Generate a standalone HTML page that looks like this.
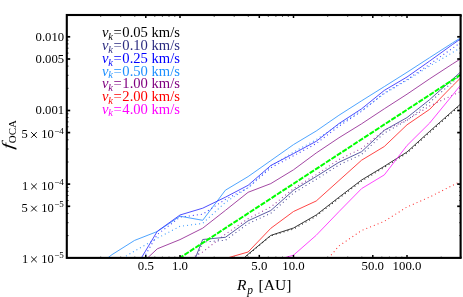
<!DOCTYPE html>
<html><head><meta charset="utf-8"><style>
html,body{margin:0;padding:0;background:#fff;}
body{width:463px;height:297px;overflow:hidden;}
svg{display:block;font-family:"Liberation Serif",serif;will-change:transform;opacity:0.999;}
</style></head><body>
<svg width="463" height="297" viewBox="0 0 463 297">
<rect width="463" height="297" fill="#fff"/>
<defs><clipPath id="c"><rect x="66.8" y="15.0" width="393.8" height="242.9"/></clipPath></defs>
<g clip-path="url(#c)" stroke-linejoin="round">
<path d="M107.4 258.2 L111.9 254.7 L134.6 240.4 L157.3 231.5 L180.0 216.2 L202.7 220.3 L225.4 190.2 L248.1 176.6 L270.8 160.6 L293.5 144.6 L316.2 131.0 L338.9 115.3 L361.6 100.8 L384.3 86.6 L407.0 72.3 L429.7 57.6 L452.4 43.0 L460.7 37.8" fill="none" stroke="#3a9aff" stroke-width="0.9" />
<path d="M122.5 258.2 L134.6 251.0 L157.3 238.2 L180.0 226.3 L202.7 223.4 L225.4 202.3 L248.1 187.6 L270.8 166.0 L293.5 152.2 L316.2 139.6 L338.9 124.6 L361.6 110.6 L384.3 93.6 L407.0 80.3 L429.7 66.0 L452.4 52.6 L460.7 47.6" fill="none" stroke="#3a9aff" stroke-width="1.05" stroke-dasharray="1 3.05" />
<path d="M141.2 258.2 L157.3 231.3 L180.0 215.0 L202.7 208.2 L225.4 197.2 L248.1 185.3 L270.8 165.5 L293.5 153.6 L316.2 141.3 L338.9 123.6 L361.6 108.8 L384.3 90.4 L407.0 77.0 L429.7 61.0 L452.4 44.6 L460.7 38.8" fill="none" stroke="#3a3aff" stroke-width="0.9" />
<path d="M143.6 258.2 L157.3 234.5 L180.0 217.2 L202.7 214.2 L225.4 199.4 L248.1 187.8 L270.8 167.8 L293.5 155.8 L316.2 143.6 L338.9 126.2 L361.6 111.3 L384.3 93.0 L407.0 79.6 L429.7 64.2 L452.4 48.3 L460.7 42.6" fill="none" stroke="#3a3aff" stroke-width="1.05" stroke-dasharray="1 3.05" />
<path d="M147.3 258.2 L157.3 248.8 L180.0 239.6 L202.7 228.2 L225.4 210.4 L248.1 192.3 L270.8 183.6 L293.5 169.8 L316.2 153.0 L338.9 137.8 L361.6 123.8 L384.3 108.8 L407.0 94.2 L429.7 78.8 L452.4 64.0 L460.7 58.8" fill="none" stroke="#993399" stroke-width="0.9" />
<path d="M191.3 258.2 L202.7 252.0 L225.4 234.2 L248.1 218.7 L270.8 207.0 L293.5 188.6 L316.2 174.6 L338.9 159.6 L361.6 148.5 L384.3 130.3 L407.0 120.0 L429.7 106.0 L452.4 95.3 L460.7 91.4" fill="none" stroke="#993399" stroke-width="1.05" stroke-dasharray="1 3.05" />
<path d="M195.3 258.2 L202.7 239.5 L225.4 237.3 L248.1 220.8 L270.8 210.5 L293.5 190.3 L316.2 176.5 L338.9 162.3 L361.6 151.7 L384.3 130.3 L407.0 117.6 L429.7 99.6 L452.4 79.3 L460.7 71.9" fill="none" stroke="#4a4a9a" stroke-width="0.9" />
<path d="M196.6 258.2 L202.7 242.0 L225.4 240.3 L248.1 223.6 L270.8 213.3 L293.5 193.1 L316.2 179.3 L338.9 165.0 L361.6 154.4 L384.3 133.0 L407.0 120.3 L429.7 102.4 L452.4 82.2 L460.7 74.8" fill="none" stroke="#4a4a9a" stroke-width="1.05" stroke-dasharray="1 3.05" />
<path d="M226.5 258.2 L248.1 252.0 L270.8 228.3 L293.5 211.5 L316.2 201.0 L338.9 180.6 L361.6 160.2 L384.3 146.5 L407.0 124.8 L429.7 109.3 L452.4 86.0 L460.7 77.8" fill="none" stroke="#ff3030" stroke-width="0.9" />
<path d="M328.5 258.2 L338.9 246.0 L361.6 230.5 L384.3 221.3 L407.0 207.0 L429.7 197.0 L452.4 185.5 L460.7 181.2" fill="none" stroke="#ff3030" stroke-width="1.05" stroke-dasharray="1 3.05" />
<path d="M243.8 258.2 L248.1 254.3 L270.8 235.4 L293.5 228.0 L316.2 215.0 L338.9 197.3 L361.6 180.0 L384.3 166.3 L407.0 152.0 L429.7 131.3 L452.4 111.2 L460.7 104.0" fill="none" stroke="#222222" stroke-width="0.9" />
<path d="M243.8 258.6 L248.1 254.7 L270.8 235.8 L293.5 229.1 L316.2 216.1 L338.9 198.4 L361.6 181.1 L384.3 167.4 L407.0 153.1 L429.7 132.4 L452.4 112.3 L460.7 105.1" fill="none" stroke="#222222" stroke-width="1.05" stroke-dasharray="1 3.05" />
<path d="M283.0 258.2 L293.5 255.2 L316.2 235.3 L338.9 211.7 L361.6 188.6 L384.3 174.9 L407.0 145.5 L429.7 123.0 L452.4 95.3 L460.7 85.0" fill="none" stroke="#ff30ff" stroke-width="0.9" />
<path d="M179.0 258.4 L460.7 74.7" fill="none" stroke="#00ff00" stroke-width="2.0" stroke-dasharray="5.2 1.3" />
</g>
<g stroke="#000" stroke-width="1" fill="none">
<path d="M100.7 257.9 v-1.25" stroke-width="0.9"/><path d="M100.7 15.0 v1.70" stroke-width="0.9"/>
<path d="M120.7 257.9 v-1.25" stroke-width="0.9"/><path d="M120.7 15.0 v1.70" stroke-width="0.9"/>
<path d="M134.8 257.9 v-1.25" stroke-width="0.9"/><path d="M134.8 15.0 v1.70" stroke-width="0.9"/>
<path d="M145.8 257.9 v-3.00" stroke-width="1.5"/><path d="M145.8 15.0 v3.00" stroke-width="1.5"/>
<path d="M154.8 257.9 v-1.25" stroke-width="0.9"/><path d="M154.8 15.0 v1.70" stroke-width="0.9"/>
<path d="M162.4 257.9 v-1.25" stroke-width="0.9"/><path d="M162.4 15.0 v1.70" stroke-width="0.9"/>
<path d="M169.0 257.9 v-1.25" stroke-width="0.9"/><path d="M169.0 15.0 v1.70" stroke-width="0.9"/>
<path d="M174.8 257.9 v-1.25" stroke-width="0.9"/><path d="M174.8 15.0 v1.70" stroke-width="0.9"/>
<path d="M180.0 257.9 v-3.00" stroke-width="1.5"/><path d="M180.0 15.0 v3.00" stroke-width="1.5"/>
<path d="M214.2 257.9 v-1.25" stroke-width="0.9"/><path d="M214.2 15.0 v1.70" stroke-width="0.9"/>
<path d="M234.2 257.9 v-1.25" stroke-width="0.9"/><path d="M234.2 15.0 v1.70" stroke-width="0.9"/>
<path d="M248.3 257.9 v-1.25" stroke-width="0.9"/><path d="M248.3 15.0 v1.70" stroke-width="0.9"/>
<path d="M259.3 257.9 v-3.00" stroke-width="1.5"/><path d="M259.3 15.0 v3.00" stroke-width="1.5"/>
<path d="M268.3 257.9 v-1.25" stroke-width="0.9"/><path d="M268.3 15.0 v1.70" stroke-width="0.9"/>
<path d="M275.9 257.9 v-1.25" stroke-width="0.9"/><path d="M275.9 15.0 v1.70" stroke-width="0.9"/>
<path d="M282.5 257.9 v-1.25" stroke-width="0.9"/><path d="M282.5 15.0 v1.70" stroke-width="0.9"/>
<path d="M288.3 257.9 v-1.25" stroke-width="0.9"/><path d="M288.3 15.0 v1.70" stroke-width="0.9"/>
<path d="M293.5 257.9 v-3.00" stroke-width="1.5"/><path d="M293.5 15.0 v3.00" stroke-width="1.5"/>
<path d="M327.7 257.9 v-1.25" stroke-width="0.9"/><path d="M327.7 15.0 v1.70" stroke-width="0.9"/>
<path d="M347.7 257.9 v-1.25" stroke-width="0.9"/><path d="M347.7 15.0 v1.70" stroke-width="0.9"/>
<path d="M361.8 257.9 v-1.25" stroke-width="0.9"/><path d="M361.8 15.0 v1.70" stroke-width="0.9"/>
<path d="M372.8 257.9 v-3.00" stroke-width="1.5"/><path d="M372.8 15.0 v3.00" stroke-width="1.5"/>
<path d="M381.8 257.9 v-1.25" stroke-width="0.9"/><path d="M381.8 15.0 v1.70" stroke-width="0.9"/>
<path d="M389.4 257.9 v-1.25" stroke-width="0.9"/><path d="M389.4 15.0 v1.70" stroke-width="0.9"/>
<path d="M396.0 257.9 v-1.25" stroke-width="0.9"/><path d="M396.0 15.0 v1.70" stroke-width="0.9"/>
<path d="M401.8 257.9 v-1.25" stroke-width="0.9"/><path d="M401.8 15.0 v1.70" stroke-width="0.9"/>
<path d="M407.0 257.9 v-3.00" stroke-width="1.5"/><path d="M407.0 15.0 v3.00" stroke-width="1.5"/>
<path d="M441.2 257.9 v-1.25" stroke-width="0.9"/><path d="M441.2 15.0 v1.70" stroke-width="0.9"/>
<path d="M461.2 257.9 v-1.25" stroke-width="0.9"/><path d="M461.2 15.0 v1.70" stroke-width="0.9"/>
<path d="M66.8 235.6 h1.70" stroke-width="0.9"/><path d="M460.6 235.6 h-1.25" stroke-width="0.9"/>
<path d="M66.8 222.7 h1.70" stroke-width="0.9"/><path d="M460.6 222.7 h-1.25" stroke-width="0.9"/>
<path d="M66.8 213.4 h1.70" stroke-width="0.9"/><path d="M460.6 213.4 h-1.25" stroke-width="0.9"/>
<path d="M66.8 206.3 h3.40" stroke-width="1.7"/><path d="M460.6 206.3 h-3.40" stroke-width="1.7"/>
<path d="M66.8 200.5 h1.70" stroke-width="0.9"/><path d="M460.6 200.5 h-1.25" stroke-width="0.9"/>
<path d="M66.8 195.5 h1.70" stroke-width="0.9"/><path d="M460.6 195.5 h-1.25" stroke-width="0.9"/>
<path d="M66.8 191.3 h1.70" stroke-width="0.9"/><path d="M460.6 191.3 h-1.25" stroke-width="0.9"/>
<path d="M66.8 187.5 h1.70" stroke-width="0.9"/><path d="M460.6 187.5 h-1.25" stroke-width="0.9"/>
<path d="M66.8 184.1 h3.40" stroke-width="1.7"/><path d="M460.6 184.1 h-3.40" stroke-width="1.7"/>
<path d="M66.8 162.0 h1.70" stroke-width="0.9"/><path d="M460.6 162.0 h-1.25" stroke-width="0.9"/>
<path d="M66.8 149.0 h1.70" stroke-width="0.9"/><path d="M460.6 149.0 h-1.25" stroke-width="0.9"/>
<path d="M66.8 139.8 h1.70" stroke-width="0.9"/><path d="M460.6 139.8 h-1.25" stroke-width="0.9"/>
<path d="M66.8 132.6 h3.40" stroke-width="1.7"/><path d="M460.6 132.6 h-3.40" stroke-width="1.7"/>
<path d="M66.8 126.8 h1.70" stroke-width="0.9"/><path d="M460.6 126.8 h-1.25" stroke-width="0.9"/>
<path d="M66.8 121.9 h1.70" stroke-width="0.9"/><path d="M460.6 121.9 h-1.25" stroke-width="0.9"/>
<path d="M66.8 117.6 h1.70" stroke-width="0.9"/><path d="M460.6 117.6 h-1.25" stroke-width="0.9"/>
<path d="M66.8 113.8 h1.70" stroke-width="0.9"/><path d="M460.6 113.8 h-1.25" stroke-width="0.9"/>
<path d="M66.8 110.5 h3.40" stroke-width="1.7"/><path d="M460.6 110.5 h-3.40" stroke-width="1.7"/>
<path d="M66.8 88.3 h1.70" stroke-width="0.9"/><path d="M460.6 88.3 h-1.25" stroke-width="0.9"/>
<path d="M66.8 75.3 h1.70" stroke-width="0.9"/><path d="M460.6 75.3 h-1.25" stroke-width="0.9"/>
<path d="M66.8 66.1 h1.70" stroke-width="0.9"/><path d="M460.6 66.1 h-1.25" stroke-width="0.9"/>
<path d="M66.8 59.0 h3.40" stroke-width="1.7"/><path d="M460.6 59.0 h-3.40" stroke-width="1.7"/>
<path d="M66.8 53.1 h1.70" stroke-width="0.9"/><path d="M460.6 53.1 h-1.25" stroke-width="0.9"/>
<path d="M66.8 48.2 h1.70" stroke-width="0.9"/><path d="M460.6 48.2 h-1.25" stroke-width="0.9"/>
<path d="M66.8 43.9 h1.70" stroke-width="0.9"/><path d="M460.6 43.9 h-1.25" stroke-width="0.9"/>
<path d="M66.8 40.2 h1.70" stroke-width="0.9"/><path d="M460.6 40.2 h-1.25" stroke-width="0.9"/>
<path d="M66.8 36.8 h3.40" stroke-width="1.7"/><path d="M460.6 36.8 h-3.40" stroke-width="1.7"/>
</g>
<rect x="66.8" y="15.0" width="393.8" height="242.9" fill="none" stroke="#000" stroke-width="2.1"/>
<g fill="#000">
<g transform="translate(102.1,37.4) scale(1.045,1)" fill="#000000" font-size="14"><text x="0" y="0"><tspan font-style="italic">v</tspan><tspan font-style="italic" font-size="10" dy="2.8" dx="-0.3">k</tspan><tspan dy="-2.8" dx="0.5">=</tspan><tspan dx="0.6">0.05 km/s</tspan></text></g>
<g transform="translate(102.1,50.1) scale(1.045,1)" fill="#2b2b80" font-size="14"><text x="0" y="0"><tspan font-style="italic">v</tspan><tspan font-style="italic" font-size="10" dy="2.8" dx="-0.3">k</tspan><tspan dy="-2.8" dx="0.5">=</tspan><tspan dx="0.6">0.10 km/s</tspan></text></g>
<g transform="translate(102.1,62.8) scale(1.045,1)" fill="#0000ff" font-size="14"><text x="0" y="0"><tspan font-style="italic">v</tspan><tspan font-style="italic" font-size="10" dy="2.8" dx="-0.3">k</tspan><tspan dy="-2.8" dx="0.5">=</tspan><tspan dx="0.6">0.25 km/s</tspan></text></g>
<g transform="translate(102.1,75.5) scale(1.045,1)" fill="#1e90ff" font-size="14"><text x="0" y="0"><tspan font-style="italic">v</tspan><tspan font-style="italic" font-size="10" dy="2.8" dx="-0.3">k</tspan><tspan dy="-2.8" dx="0.5">=</tspan><tspan dx="0.6">0.50 km/s</tspan></text></g>
<g transform="translate(102.1,88.2) scale(1.045,1)" fill="#800080" font-size="14"><text x="0" y="0"><tspan font-style="italic">v</tspan><tspan font-style="italic" font-size="10" dy="2.8" dx="-0.3">k</tspan><tspan dy="-2.8" dx="0.5">=</tspan><tspan dx="0.6">1.00 km/s</tspan></text></g>
<g transform="translate(102.1,100.9) scale(1.045,1)" fill="#ff0000" font-size="14"><text x="0" y="0"><tspan font-style="italic">v</tspan><tspan font-style="italic" font-size="10" dy="2.8" dx="-0.3">k</tspan><tspan dy="-2.8" dx="0.5">=</tspan><tspan dx="0.6">2.00 km/s</tspan></text></g>
<g transform="translate(102.1,113.6) scale(1.045,1)" fill="#ff00ff" font-size="14"><text x="0" y="0"><tspan font-style="italic">v</tspan><tspan font-style="italic" font-size="10" dy="2.8" dx="-0.3">k</tspan><tspan dy="-2.8" dx="0.5">=</tspan><tspan dx="0.6">4.00 km/s</tspan></text></g>

<text x="145.8" y="269.8" text-anchor="middle" font-size="12.8">0.5</text>
<text x="180.0" y="269.8" text-anchor="middle" font-size="12.8">1.0</text>
<text x="259.3" y="269.8" text-anchor="middle" font-size="12.8">5.0</text>
<text x="293.5" y="269.8" text-anchor="middle" font-size="12.8">10.0</text>
<text x="372.8" y="269.8" text-anchor="middle" font-size="12.8">50.0</text>
<text x="407.0" y="269.8" text-anchor="middle" font-size="12.8">100.0</text>

<text x="64.1" y="40.5" text-anchor="end" font-size="12.7">0.010</text>
<text x="64.1" y="62.7" text-anchor="end" font-size="12.7">0.005</text>
<text x="64.1" y="114.2" text-anchor="end" font-size="12.7">0.001</text>
<text y="138.1" font-size="12.5"><tspan x="21.4">5</tspan><tspan x="41.3">10</tspan><tspan x="54.2" font-size="9" dy="-4.6">−4</tspan></text>
<path d="M31.15 132.14 l5.6 5.6 M31.15 137.74 l5.6 -5.6" stroke="#000" stroke-width="0.95" fill="none"/>
<text y="189.6" font-size="12.5"><tspan x="21.9">1</tspan><tspan x="41.3">10</tspan><tspan x="54.2" font-size="9" dy="-4.6">−4</tspan></text>
<path d="M31.15 183.63 l5.6 5.6 M31.15 189.23 l5.6 -5.6" stroke="#000" stroke-width="0.95" fill="none"/>
<text y="211.8" font-size="12.5"><tspan x="21.4">5</tspan><tspan x="41.3">10</tspan><tspan x="54.2" font-size="9" dy="-4.6">−5</tspan></text>
<path d="M31.15 205.81 l5.6 5.6 M31.15 211.41 l5.6 -5.6" stroke="#000" stroke-width="0.95" fill="none"/>
<text y="262.6" font-size="12.5"><tspan x="21.9">1</tspan><tspan x="41.3">10</tspan><tspan x="54.2" font-size="9" dy="-4.6">−5</tspan></text>
<path d="M31.15 256.60 l5.6 5.6 M31.15 262.20 l5.6 -5.6" stroke="#000" stroke-width="0.95" fill="none"/>

<text y="290" font-size="15.5"><tspan x="237" font-style="italic">R</tspan><tspan x="247.3" font-style="italic" font-size="11.5" dy="3.6">p</tspan><tspan x="258.6" dy="-3.6">[AU]</tspan></text>
<text transform="translate(12.6,149.6) rotate(-90) scale(1.3,1) skewX(-5)" font-size="16" font-style="italic">f</text>
<text transform="translate(15.5,143.2) rotate(-90)" font-size="11">OCA</text>
</g>
</svg>
</body></html>
